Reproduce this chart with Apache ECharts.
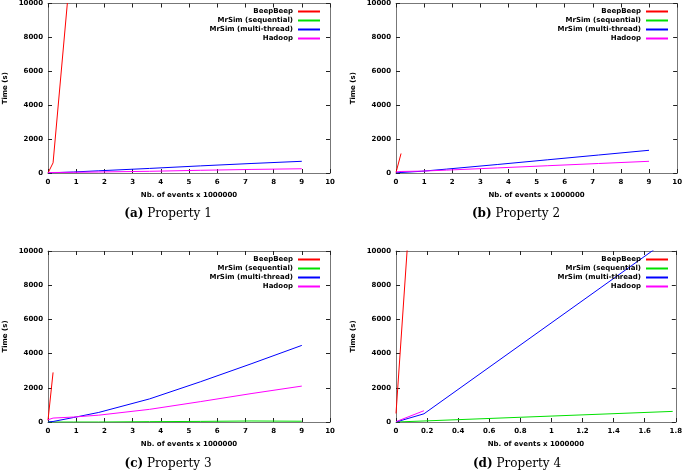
<!DOCTYPE html>
<html><head><meta charset="utf-8">
<script src="https://cdn.jsdelivr.net/npm/echarts@6/dist/echarts.min.js"></script>
<style>html,body{margin:0;padding:0;background:#fff}#c{width:685px;height:470px}</style>
</head><body><div id="c"></div>
<script>
// ---- Data ----
const seriesNames = ['BeepBeep', 'MrSim (sequential)', 'MrSim (multi-thread)', 'Hadoop'];
const captionLetters = ['(a)', '(b)', '(c)', '(d)'];
const captionTexts = ['Property 1', 'Property 2', 'Property 3', 'Property 4'];
const xAxisName = 'Nb. of events x 1000000';
const yAxisName = 'Time (s)';

// Panel (a) Property 1
const aBeepX = [0, 0.18, 0.9];
const aBeepY = [0, 600, 14000];
const aX = [0, 0.18, 0.9, 1.8, 3.6, 5.4, 7.2, 9];
const aMultiY = [0, 15, 60, 130, 270, 420, 560, 690];
const aHadoopY = [20, 30, 40, 60, 100, 160, 210, 250];

// Panel (b) Property 2
const bBeepX = [0, 0.18];
const bBeepY = [30, 1150];
const bX = [0, 0.18, 0.9, 1.8, 3.6, 5.4, 7.2, 9];
const bMultiY = [10, 30, 100, 230, 500, 780, 1060, 1340];
const bHadoopY = [60, 90, 110, 170, 300, 430, 560, 690];

// Panel (c) Property 3
const cBeepX = [0, 0.18];
const cBeepY = [100, 2900];
const cX = [0, 0.18, 0.9, 1.8, 3.6, 5.4, 7.2, 9];
const cSeqY = [0, 0, 0, 0, 20, 35, 60, 45];
const cMultiY = [0, 30, 260, 560, 1350, 2350, 3400, 4480];
const cHadoopY = [130, 230, 290, 400, 740, 1190, 1660, 2100];

// Panel (d) Property 4
const dBeepX = [0, 0.09];
const dBeepY = [500, 12500];
const dSeqX = [0, 0.18, 1.78];
const dSeqY = [0, 60, 620];
const dMultiX = [0, 0.18, 1.8];
const dMultiY = [0, 480, 10990];
const dHadoopX = [0, 0.18];
const dHadoopY = [20, 660];

const xMaxes = [10, 10, 10, 1.8];
const xIntervals = [1, 1, 1, 0.2];
const yMax = 10000;
const yInterval = 2000;

// ---- Layout / style ----
const colors = ['#ff0000', '#00e000', '#0000ff', '#ff00ff'];
const grids = [
  {left: 48, top: 3, width: 282, height: 170},
  {left: 396, top: 3, width: 282, height: 170},
  {left: 48, top: 251, width: 282, height: 171},
  {left: 396, top: 251, width: 283, height: 171}
];
const legendPos = [
  {right: 365, top: 7},
  {right: 17, top: 7},
  {right: 365, top: 255},
  {right: 17, top: 255}
];
const captionPos = [[168, 208], [516, 208], [168, 458], [517, 458]];
const FONT = 'DejaVu Sans';
const tickFont = {fontFamily: FONT, fontSize: 7, fontWeight: 'bold', color: '#000'};

function pts(xs, ys) { return xs.map((x, i) => [x, ys[i]]); }

const panelSeries = [
  [[0, pts(aBeepX, aBeepY)], [2, pts(aX, aMultiY)], [3, pts(aX, aHadoopY)]],
  [[0, pts(bBeepX, bBeepY)], [2, pts(bX, bMultiY)], [3, pts(bX, bHadoopY)]],
  [[0, pts(cBeepX, cBeepY)], [1, pts(cX, cSeqY)], [2, pts(cX, cMultiY)], [3, pts(cX, cHadoopY)]],
  [[0, pts(dBeepX, dBeepY)], [1, pts(dSeqX, dSeqY)], [2, pts(dMultiX, dMultiY)], [3, pts(dHadoopX, dHadoopY)]]
];

const border = {show: true, onZero: false, lineStyle: {color: '#777', width: 1}};
const tick = {show: true, inside: true, length: 4, lineStyle: {color: '#222'}};
const plainNum = v => String(Math.round(v * 1000) / 1000);

const xAxes = [], yAxes = [], series = [], legends = [], titles = [];
grids.forEach((g, i) => {
  const xBase = {type: 'value', gridIndex: i, min: 0, max: xMaxes[i], interval: xIntervals[i],
    axisLine: border, axisTick: tick, splitLine: {show: false}};
  xAxes.push(Object.assign({}, xBase, {position: 'bottom',
    axisLabel: Object.assign({margin: 6, formatter: plainNum}, tickFont),
    name: xAxisName, nameLocation: 'middle', nameGap: 19,
    nameTextStyle: Object.assign({}, tickFont)}));
  xAxes.push(Object.assign({}, xBase, {position: 'top', axisLabel: {show: false}}));
  const yBase = {type: 'value', gridIndex: i, min: 0, max: yMax, interval: yInterval,
    axisLine: border, axisTick: tick, splitLine: {show: false}};
  yAxes.push(Object.assign({}, yBase, {position: 'left',
    axisLabel: Object.assign({margin: 5, formatter: plainNum}, tickFont),
    name: yAxisName, nameLocation: 'middle', nameGap: 39, nameRotate: 90,
    nameTextStyle: Object.assign({}, tickFont)}));
  yAxes.push(Object.assign({}, yBase, {position: 'right', axisLabel: {show: false}}));

  panelSeries[i].forEach(([k, data]) => {
    series.push({type: 'line', name: seriesNames[k], xAxisIndex: 2 * i, yAxisIndex: 2 * i,
      data: data, showSymbol: false, symbol: 'none', clip: true, color: colors[k],
      lineStyle: {color: colors[k], width: 1}, itemStyle: {color: colors[k]}, animation: false});
  });

  legends.push({orient: 'vertical', align: 'right', right: legendPos[i].right, top: legendPos[i].top,
    padding: 0, itemGap: 0, itemWidth: 22, itemHeight: 2, icon: 'rect', selectedMode: false,
    data: seriesNames.slice(),
    textStyle: {fontFamily: FONT, fontSize: 7, fontWeight: 'bold', color: '#000', lineHeight: 9, padding: [0, 0, 0, 0]}});

  titles.push({text: '{b|' + captionLetters[i] + '} {n|' + captionTexts[i] + '}',
    left: captionPos[i][0], top: captionPos[i][1], textAlign: 'center', padding: 0,
    textStyle: {fontWeight: 'normal', fontFamily: 'DejaVu Serif', fontSize: 12, rich: {
      b: {fontFamily: 'DejaVu Serif', fontWeight: 'bold', fontSize: 12, color: '#000'},
      n: {fontFamily: 'DejaVu Serif', fontWeight: 'normal', fontSize: 12, color: '#000'}}}});
});

const chart = echarts.init(document.getElementById('c'), null, {renderer: 'canvas'});
chart.setOption({
  animation: false,
  backgroundColor: '#fff',
  title: titles,
  grid: grids,
  xAxis: xAxes,
  yAxis: yAxes,
  legend: legends,
  series: series
});
</script>
</body></html>
